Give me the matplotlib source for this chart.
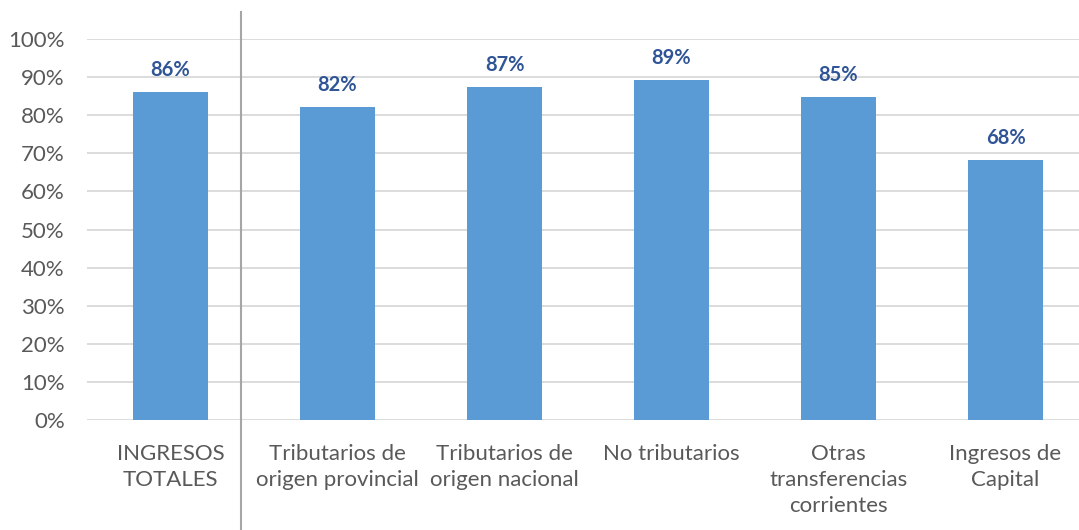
import matplotlib
matplotlib.use("Agg")
import matplotlib.pyplot as plt
import numpy as np

# Datos del grafico
categorias = ["INGRESOS\nTOTALES", "Tributarios de\norigen provincial", "Tributarios de\norigen nacional",
              "No tributarios", "Otras\ntransferencias\ncorrientes", "Ingresos de\nCapital"]
valores = [86.1, 82.2, 87.4, 89.2, 84.8, 68.2]
etiquetas = ["86%", "82%", "87%", "89%", "85%", "68%"]
ticks_y = [0, 10, 20, 30, 40, 50, 60, 70, 80, 90, 100]

plt.rcParams['font.family'] = ['Lato', 'DejaVu Sans']

fig = plt.figure(figsize=(10.79, 5.30), dpi=100)
ax = fig.add_axes([87 / 1079, 110 / 530, 992 / 1079, 381 / 530])

x = np.arange(len(categorias))
ax.bar(x, valores, width=0.45, color="#5B9BD5", zorder=3)

for xi, v, t in zip(x, valores, etiquetas):
    ax.text(xi, v + 3.2, t, ha="center", va="bottom", fontsize=14.5, fontweight="bold", color="#2F5597")

ax.set_ylim(0, 100)
ax.set_xlim(-0.5, 5.44)
ax.set_yticks(ticks_y)
ax.set_yticklabels([f"{t}%" for t in ticks_y], fontsize=16, color="#595959")
ax.set_xticks(x)
ax.set_xticklabels(categorias, fontsize=16, color="#595959", linespacing=1.38, va="top")
ax.tick_params(axis="both", length=0)
ax.tick_params(axis="x", pad=17)
ax.tick_params(axis="y", pad=16)
ax.grid(axis="y", color="#D9D9D9", linewidth=1.3, zorder=0)
for s in ax.spines.values():
    s.set_visible(False)

# linea separadora
ax.axvline(0.425, ymin=-0.29, ymax=1.07, color="#A6A6A6", linewidth=1.5, clip_on=False)

fig.savefig("out.png", dpi=100)
